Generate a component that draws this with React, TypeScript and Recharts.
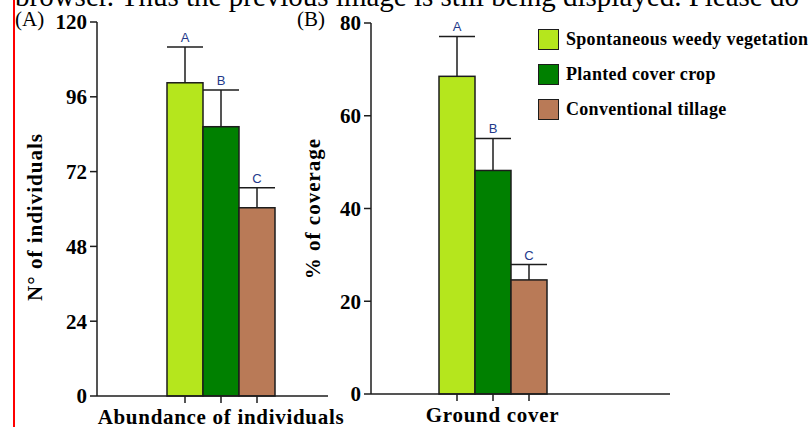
import React from 'react'
import { BarChart, Bar, XAxis, YAxis } from 'recharts'

// Values (means + upper error bars)
const treatments = ['Spontaneous weedy vegetation', 'Planted cover crop', 'Conventional tillage']
const treatmentKeys = ['spont', 'planted', 'conv']
const treatmentColors = ['#B5E61D', '#008000', '#B97A57']
const groupLetters = ['A', 'B', 'C']

const abundanceCategory = ['Abundance of individuals']
const abundanceMeans = [100.5, 86.4, 60.4]
const abundanceErrors = [11.5, 11.8, 6.4]
const abundanceTicks = [0, 24, 48, 72, 96, 120]

const coverCategory = ['Ground cover']
const coverMeans = [68.5, 48.2, 24.6]
const coverErrors = [8.6, 6.9, 3.3]
const coverTicks = [0, 20, 40, 60, 80]

const SERIF = '"Liberation Serif", "Times New Roman", serif'
const INK = '#1c1c1c'

function buildRows(categories: string[], means: number[], errors: number[]) {
    return categories.map((name) => {
        const row: Record<string, any> = { name }
        treatmentKeys.forEach((k, i) => {
            row[k] = means[i]
            row[k + 'Err'] = errors[i]
        })
        return row
    })
}

// bar with one-sided error whisker, significance letter and a tick under the axis
function makeBarShape(index: number) {
    const key = treatmentKeys[index]
    return (props: any) => {
        const { x, y, width, height, fill, payload } = props
        const mean = payload[key]
        const err = payload[key + 'Err']
        const unit = height / mean
        const top = y - err * unit
        const cx = x + width / 2
        const base = y + height
        return (
            <g>
                <rect x={x} y={y} width={width} height={height} fill={fill} stroke={INK} strokeWidth={1.5} />
                <line x1={cx} y1={y} x2={cx} y2={top} stroke={INK} strokeWidth={1.5} />
                <line x1={x} y1={top} x2={x + width} y2={top} stroke={INK} strokeWidth={1.5} />
                <line x1={cx} y1={base} x2={cx} y2={base + 7} stroke={INK} strokeWidth={1.5} />
                <text x={cx} y={top - 5} textAnchor="middle" fontFamily='"Liberation Sans", Arial, sans-serif'
                    fontSize={13} fill="#23398a">{groupLetters[index]}</text>
            </g>
        )
    }
}

const CategoryTick = (props: any) => {
    const { x, y, payload } = props
    return (
        <text x={x} y={y + 20} textAnchor="middle" fontFamily={SERIF} fontWeight="bold" fontSize={21}
            letterSpacing={0.7} fill="#000">
            {payload.value}
        </text>
    )
}

interface PanelProps {
    left: number
    width: number
    margin: { top: number; right: number; bottom: number; left: number }
    rows: Record<string, any>[]
    ticks: number[]
    yLabel: string
    labelX: number
    labelDy: number
    padding: { left: number; right: number }
    xHeight: number
}

function Panel({ left, width, margin, rows, ticks, yLabel, labelX, labelDy, padding, xHeight }: PanelProps) {
    return (
        <div style={{ position: 'absolute', left, top: 0 }}>
            <BarChart width={width} height={427} data={rows} margin={margin} barGap={0} barSize={36}>
                <XAxis
                    dataKey="name"
                    padding={padding}
                    height={xHeight}
                    axisLine={{ stroke: INK, strokeWidth: 1.5 }}
                    tickLine={false}
                    tick={<CategoryTick />}
                    interval={0}
                />
                <YAxis
                    domain={[ticks[0], ticks[ticks.length - 1]]}
                    ticks={ticks}
                    width={60}
                    tickSize={7}
                    tickMargin={3}
                    axisLine={{ stroke: INK, strokeWidth: 1.5 }}
                    tickLine={{ stroke: INK, strokeWidth: 1.5 }}
                    tick={{ fontFamily: SERIF, fontWeight: 'bold', fontSize: 21, fill: '#000' }}
                    label={(p: any) => {
                        const vb = p.viewBox
                        const cy = vb.y + vb.height / 2 + labelDy
                        return (
                            <text x={labelX} y={cy} transform={`rotate(-90 ${labelX} ${cy})`} textAnchor="middle"
                                dominantBaseline="central" fontFamily={SERIF} fontWeight="bold" fontSize={21}
                                letterSpacing={1} fill="#000">
                                {yLabel}
                            </text>
                        )
                    }}
                />
                {treatmentKeys.map((k, i) => (
                    <Bar key={k} dataKey={k} name={treatments[i]} fill={treatmentColors[i]}
                        shape={makeBarShape(i)} isAnimationActive={false} />
                ))}
            </BarChart>
        </div>
    )
}

export default function App() {
    const abundanceRows = buildRows(abundanceCategory, abundanceMeans, abundanceErrors)
    const coverRows = buildRows(coverCategory, coverMeans, coverErrors)
    return (
        <div style={{ position: 'absolute', left: 0, top: 0, width: 812, height: 427, background: '#fff', overflow: 'hidden' }}>
            <div style={{ position: 'absolute', left: 15, top: -18, fontFamily: SERIF, fontSize: 29, lineHeight: '29px', whiteSpace: 'nowrap', color: '#000' }}>
                browser. Thus the previous image is still being displayed. Please do
            </div>
            <div style={{ position: 'absolute', left: 13, top: 0, width: 2, height: 427, background: '#ff0000' }} />
            <div style={{ position: 'absolute', left: 15, top: 9, fontFamily: SERIF, fontSize: 21, lineHeight: '21px', color: '#000' }}>(A)</div>
            <div style={{ position: 'absolute', left: 297, top: 9, fontFamily: SERIF, fontSize: 21, lineHeight: '21px', color: '#000' }}>(B)</div>

            <Panel
                left={290}
                width={400}
                margin={{ top: 23, right: 20, bottom: 0, left: 21 }}
                rows={coverRows}
                ticks={coverTicks}
                yLabel="% of coverage"
                labelX={23}
                labelDy={0}
                padding={{ left: 0, right: 56 }}
                xHeight={33}
            />
            <Panel
                left={0}
                width={360}
                margin={{ top: 22, right: 32, bottom: 0, left: 37 }}
                rows={abundanceRows}
                ticks={abundanceTicks}
                yLabel="N° of individuals"
                labelX={35}
                labelDy={8}
                padding={{ left: 17, right: 0 }}
                xHeight={31}
            />

            <div style={{ position: 'absolute', left: 538, top: 28 }}>
                {treatments.map((t, i) => (
                    <div key={t} style={{ display: 'flex', alignItems: 'center', height: 22, marginBottom: 13 }}>
                        <div style={{ width: 19, height: 19, background: treatmentColors[i], border: `1.5px solid ${INK}` }} />
                        <span style={{ marginLeft: 7, fontFamily: SERIF, fontWeight: 'bold', fontSize: 18, letterSpacing: 0.3, color: '#000', whiteSpace: 'nowrap' }}>{t}</span>
                    </div>
                ))}
            </div>
        </div>
    )
}
